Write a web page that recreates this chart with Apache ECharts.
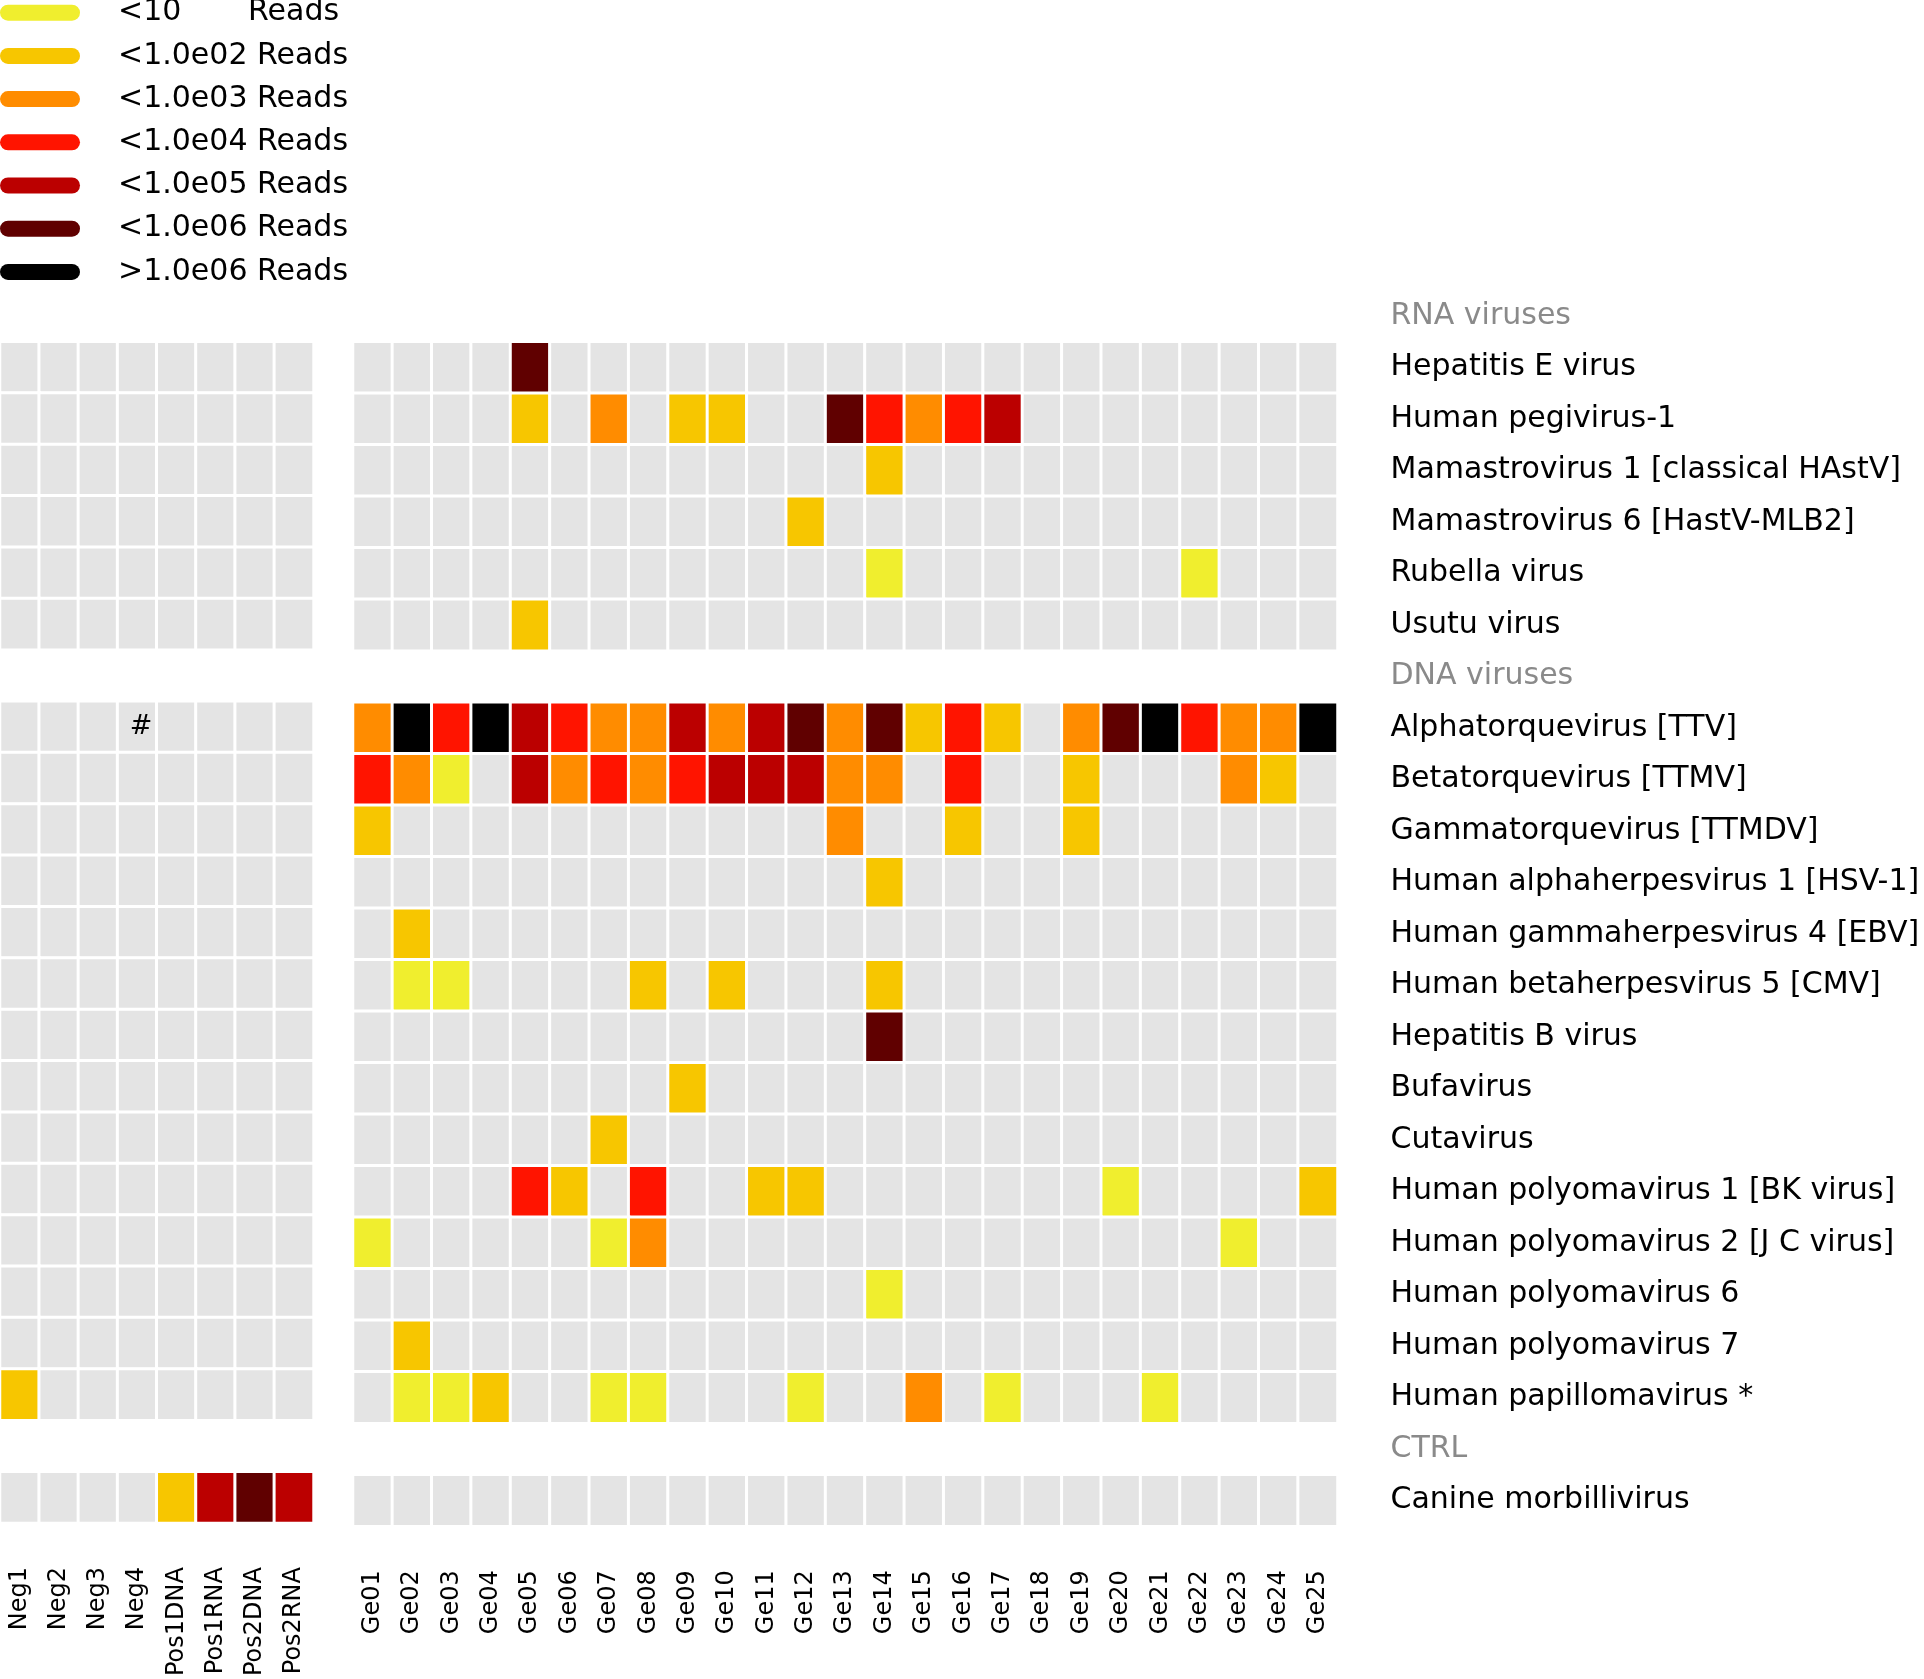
<!DOCTYPE html>
<html>
<head>
<meta charset="utf-8">
<script src="https://cdn.jsdelivr.net/npm/echarts@6/dist/echarts.min.js"></script>
<style>
  html, body { margin: 0; padding: 0; background: #fff; }
  #chart { width: 1924px; height: 1679px; }
</style>
</head>
<body>
<div id="chart"></div>
<script>
// ---- Data ----
const controls = ['Neg1', 'Neg2', 'Neg3', 'Neg4', 'Pos1DNA', 'Pos1RNA', 'Pos2DNA', 'Pos2RNA'];
const samples = ['Ge01','Ge02','Ge03','Ge04','Ge05','Ge06','Ge07','Ge08','Ge09','Ge10','Ge11','Ge12','Ge13',
                 'Ge14','Ge15','Ge16','Ge17','Ge18','Ge19','Ge20','Ge21','Ge22','Ge23','Ge24','Ge25'];
const headerRows = ['RNA viruses', 'DNA viruses', 'CTRL'];
const rowLabels = [
  'RNA viruses',
  'Hepatitis E virus',
  'Human pegivirus-1',
  'Mamastrovirus 1 [classical HAstV]',
  'Mamastrovirus 6 [HastV-MLB2]',
  'Rubella virus',
  'Usutu virus',
  'DNA viruses',
  'Alphatorquevirus [TTV]',
  'Betatorquevirus [TTMV]',
  'Gammatorquevirus [TTMDV]',
  'Human alphaherpesvirus 1 [HSV-1]',
  'Human gammaherpesvirus 4 [EBV]',
  'Human betaherpesvirus 5 [CMV]',
  'Hepatitis B virus',
  'Bufavirus',
  'Cutavirus',
  'Human polyomavirus 1 [BK virus]',
  'Human polyomavirus 2 [J C virus]',
  'Human polyomavirus 6',
  'Human polyomavirus 7',
  'Human papillomavirus *',
  'CTRL',
  'Canine morbillivirus'
];
// Read-count class: 0 = not detected, 1 = <10, 2 = <1e2, 3 = <1e3, 4 = <1e4, 5 = <1e5, 6 = <1e6, 7 = >1e6
const levelLabels = ['<10       Reads', '<1.0e02 Reads', '<1.0e03 Reads', '<1.0e04 Reads',
                     '<1.0e05 Reads', '<1.0e06 Reads', '>1.0e06 Reads'];
const levelValues = [1, 2, 3, 4, 5, 6, 7];

// controls (Neg1..Pos2RNA), one array per virus row (header rows are null)
const controlLevels = [
  null,
  [0,0,0,0,0,0,0,0],
  [0,0,0,0,0,0,0,0],
  [0,0,0,0,0,0,0,0],
  [0,0,0,0,0,0,0,0],
  [0,0,0,0,0,0,0,0],
  [0,0,0,0,0,0,0,0],
  null,
  [0,0,0,0,0,0,0,0],
  [0,0,0,0,0,0,0,0],
  [0,0,0,0,0,0,0,0],
  [0,0,0,0,0,0,0,0],
  [0,0,0,0,0,0,0,0],
  [0,0,0,0,0,0,0,0],
  [0,0,0,0,0,0,0,0],
  [0,0,0,0,0,0,0,0],
  [0,0,0,0,0,0,0,0],
  [0,0,0,0,0,0,0,0],
  [0,0,0,0,0,0,0,0],
  [0,0,0,0,0,0,0,0],
  [0,0,0,0,0,0,0,0],
  [2,0,0,0,0,0,0,0],
  null,
  [0,0,0,0,2,5,6,5]
];
// samples (Ge01..Ge25)
const sampleLevels = [
  null,
  [0,0,0,0,6,0,0,0,0,0,0,0,0,0,0,0,0,0,0,0,0,0,0,0,0],
  [0,0,0,0,2,0,3,0,2,2,0,0,6,4,3,4,5,0,0,0,0,0,0,0,0],
  [0,0,0,0,0,0,0,0,0,0,0,0,0,2,0,0,0,0,0,0,0,0,0,0,0],
  [0,0,0,0,0,0,0,0,0,0,0,2,0,0,0,0,0,0,0,0,0,0,0,0,0],
  [0,0,0,0,0,0,0,0,0,0,0,0,0,1,0,0,0,0,0,0,0,1,0,0,0],
  [0,0,0,0,2,0,0,0,0,0,0,0,0,0,0,0,0,0,0,0,0,0,0,0,0],
  null,
  [3,7,4,7,5,4,3,3,5,3,5,6,3,6,2,4,2,0,3,6,7,4,3,3,7],
  [4,3,1,0,5,3,4,3,4,5,5,5,3,3,0,4,0,0,2,0,0,0,3,2,0],
  [2,0,0,0,0,0,0,0,0,0,0,0,3,0,0,2,0,0,2,0,0,0,0,0,0],
  [0,0,0,0,0,0,0,0,0,0,0,0,0,2,0,0,0,0,0,0,0,0,0,0,0],
  [0,2,0,0,0,0,0,0,0,0,0,0,0,0,0,0,0,0,0,0,0,0,0,0,0],
  [0,1,1,0,0,0,0,2,0,2,0,0,0,2,0,0,0,0,0,0,0,0,0,0,0],
  [0,0,0,0,0,0,0,0,0,0,0,0,0,6,0,0,0,0,0,0,0,0,0,0,0],
  [0,0,0,0,0,0,0,0,2,0,0,0,0,0,0,0,0,0,0,0,0,0,0,0,0],
  [0,0,0,0,0,0,2,0,0,0,0,0,0,0,0,0,0,0,0,0,0,0,0,0,0],
  [0,0,0,0,4,2,0,4,0,0,2,2,0,0,0,0,0,0,0,1,0,0,0,0,2],
  [1,0,0,0,0,0,1,3,0,0,0,0,0,0,0,0,0,0,0,0,0,0,1,0,0],
  [0,0,0,0,0,0,0,0,0,0,0,0,0,1,0,0,0,0,0,0,0,0,0,0,0],
  [0,2,0,0,0,0,0,0,0,0,0,0,0,0,0,0,0,0,0,0,0,0,0,0,0],
  [0,1,1,2,0,0,1,1,0,0,0,1,0,0,3,0,1,0,0,0,1,0,0,0,0],
  null,
  [0,0,0,0,0,0,0,0,0,0,0,0,0,0,0,0,0,0,0,0,0,0,0,0,0]
];
// cell annotations
const annotations = [{ row: 'Alphatorquevirus [TTV]', col: 'Neg4', text: '#' }];

// ---- Styles ----
const levelColors = ['#f0ee2e', '#f7c600', '#ff8c00', '#ff1400', '#bb0000', '#600000', '#000000'];
const emptyColor = '#e4e4e4';
const FONT = 'DejaVu Sans';

function buildData(levels, cols) {
  const out = [];
  levels.forEach((row, r) => {
    if (!row) return;
    row.forEach((v, c) => {
      const item = { value: [c, r, v] };
      const ann = annotations.find(a => a.row === rowLabels[r] && a.col === cols[c]);
      if (ann) {
        item.label = { show: true, formatter: ann.text, color: '#000', fontSize: 27, fontFamily: FONT, offset: [4, 0] };
      }
      out.push(item);
    });
  });
  return out;
}

const chart = echarts.init(document.getElementById('chart'), null, { renderer: 'canvas' });

const gridTop = 290.3;
const gridHeight = 1236;
const pitch = 39.38;

const yAxisBase = {
  type: 'category',
  data: rowLabels,
  inverse: true,
  axisLine: { show: false },
  axisTick: { show: false },
  splitLine: { show: false }
};
const xAxisBase = {
  type: 'category',
  position: 'bottom',
  axisLine: { show: false },
  axisTick: { show: false },
  splitLine: { show: false },
  axisLabel: { rotate: 90, interval: 0, fontSize: 24, color: '#000', fontFamily: FONT, margin: 44 }
};

const option = {
  animation: false,
  backgroundColor: '#ffffff',
  textStyle: { fontFamily: FONT },
  grid: [
    { left: -1.5, top: gridTop, width: pitch * controls.length, height: gridHeight },
    { left: 353, top: gridTop, width: pitch * samples.length, height: gridHeight }
  ],
  xAxis: [
    Object.assign({}, xAxisBase, { gridIndex: 0, data: controls }),
    Object.assign({}, xAxisBase, { gridIndex: 1, data: samples })
  ],
  yAxis: [
    Object.assign({}, yAxisBase, { gridIndex: 0, axisLabel: { show: false } }),
    Object.assign({}, yAxisBase, {
      gridIndex: 1,
      position: 'right',
      axisLabel: {
        show: true, interval: 0, margin: 53, fontSize: 30, fontFamily: FONT,
        color: (v) => headerRows.indexOf(v) >= 0 ? '#8a8a8a' : '#000'
      }
    })
  ],
  visualMap: {
    type: 'piecewise',
    seriesIndex: [0, 1],
    orient: 'vertical',
    inverse: true,
    left: 0,
    top: -2.3,
    padding: 0,
    itemWidth: 80,
    itemHeight: 16,
    itemGap: 13.2,
    textGap: 38,
    selectedMode: false,
    hoverLink: false,
    itemSymbol: 'path://M8,0L72,0A8,8,0,0,1,72,16L8,16A8,8,0,0,1,8,0Z',
    textStyle: { fontSize: 30, color: '#000', fontFamily: FONT },
    pieces: levelValues.map((v, i) => ({ value: v, label: levelLabels[i], color: levelColors[i] })),
    outOfRange: { color: emptyColor }
  },
  series: [
    {
      type: 'heatmap', xAxisIndex: 0, yAxisIndex: 0,
      data: buildData(controlLevels, controls),
      itemStyle: { borderColor: '#ffffff', borderWidth: 3 },
      label: { show: false },
      emphasis: { disabled: true }
    },
    {
      type: 'heatmap', xAxisIndex: 1, yAxisIndex: 1,
      data: buildData(sampleLevels, samples),
      itemStyle: { borderColor: '#ffffff', borderWidth: 3 },
      label: { show: false },
      emphasis: { disabled: true }
    }
  ]
};
chart.setOption(option);
</script>
</body>
</html>
